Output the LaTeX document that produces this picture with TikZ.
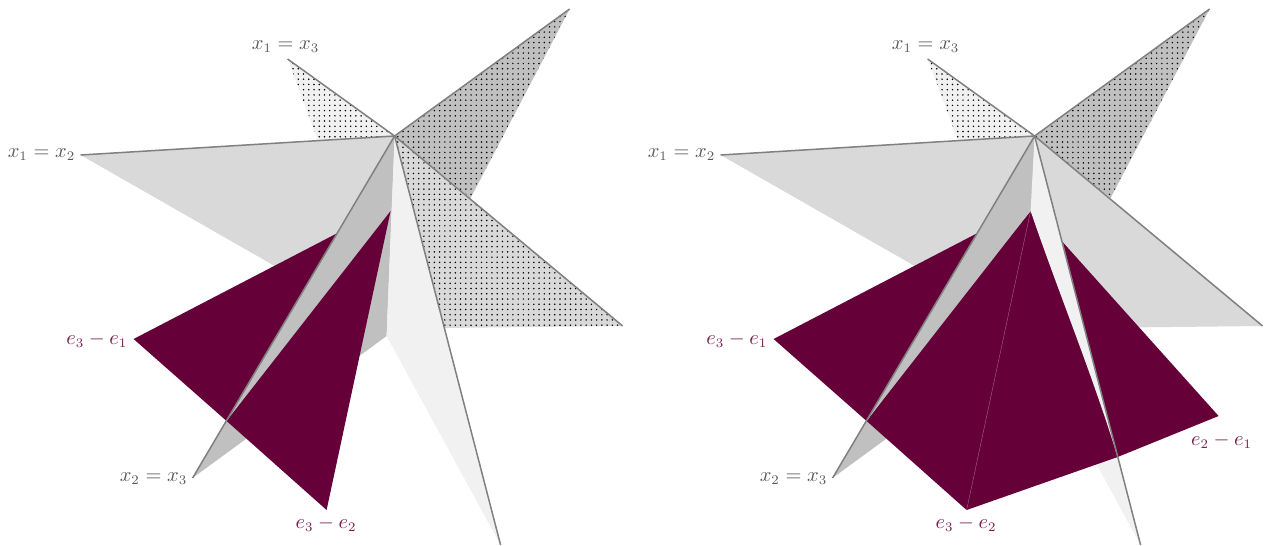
\documentclass[tikz,border=0pt]{standalone}
\usepackage{amsmath, amssymb}
\usetikzlibrary{patterns}
\definecolor{rootpurple}{RGB}{102, 0, 56}
\definecolor{planelight}{RGB}{217, 217, 217}
\definecolor{planedark}{RGB}{192, 192, 192}
\definecolor{planepale}{RGB}{241, 241, 241}
\pgfdeclarepatternformonly{finedots}{\pgfqpoint{-1pt}{-1pt}}{\pgfqpoint{1pt}{1pt}}{\pgfqpoint{2.8pt}{2.8pt}}{
  \pgfpathcircle{\pgfpointorigin}{0.45pt}\pgfusepath{fill}
}
\tikzset{
  wall/.style={draw=black!50, line width=0.8pt},
  dotted plane/.style={postaction={pattern=finedots}},
  grayl/.style={text=black!65, inner sep=0pt, font=\fontsize{10.7}{13}\selectfont},
  rootl/.style={text=rootpurple!88, inner sep=0pt, font=\fontsize{10.7}{13}\selectfont},
}
\begin{document}
\begin{tikzpicture}[x=0.535pt, y=-0.535pt]
  \useasboundingbox (0,0) rectangle (1265,545);

  %%% Left panel
  \begin{scope}[shift={(0.6,0)}, name prefix=a-]
    \coordinate (o) at (394,136);
    \coordinate (tipA) at (80,155);
    \coordinate (tipB) at (287,59);
    \coordinate (tipC) at (192,478);
    \coordinate (tipD) at (500,545);
    \coordinate (tipE) at (569,9);
    \coordinate (tipF) at (622,326);
    \coordinate (e31) at (133,339);
    \coordinate (e32) at (326,510);
    \coordinate (top) at (390,211);
    \coordinate (cut) at (226,421);

    % Dotted planes at the back
    \fill[planepale, dotted plane] (o) -- (tipB) -- (318,142) -- cycle;
    \fill[planedark, dotted plane] (o) -- (tipE) -- (470,198) -- cycle;
    \fill[planelight, dotted plane] (o) -- (tipF) -- (440,328) -- cycle;

    % Plain planes
    \fill[planelight] (o) -- (tipA) -- (386,330) -- cycle;
    \fill[planedark] (o) -- (tipC) -- (386,336) -- cycle;
    \fill[planepale] (o) -- (tipD) -- (386,336) -- cycle;

    % Roots
    \fill[rootpurple] (e31) -- (337,233) -- (cut) -- cycle;
    \fill[rootpurple] (top) -- (e32) -- (cut) -- cycle;

    % Walls
    \draw[wall] (o) -- (tipA);
    \draw[wall] (o) -- (tipB);
    \draw[wall] (o) -- (tipC);
    \draw[wall] (o) -- (tipD);
    \draw[wall] (o) -- (tipE);
    \draw[wall] (o) -- (tipF);

    \node[grayl, anchor=east] (x12) at (75,155) {$x_1 = x_2$};
    \node[grayl, anchor=east] (x23) at (187,479) {$x_2 = x_3$};
    \node[grayl] (x13) at (285,47) {$x_1 = x_3$};
    \node[rootl, anchor=east] (r31) at (127,340) {$e_3 - e_1$};
    \node[rootl] (r32) at (325.5,524) {$e_3 - e_2$};
  \end{scope}

  %%% Right panel
  \begin{scope}[shift={(640.6,0)}, name prefix=b-]
    \coordinate (o) at (394,136);
    \coordinate (tipA) at (80,155);
    \coordinate (tipB) at (287,59);
    \coordinate (tipC) at (192,478);
    \coordinate (tipD) at (500,545);
    \coordinate (tipE) at (569,9);
    \coordinate (tipF) at (622,326);
    \coordinate (e31) at (133,339);
    \coordinate (e32) at (326,510);
    \coordinate (e21) at (578,416);
    \coordinate (top) at (390,211);
    \coordinate (cut) at (226,421);
    \coordinate (cross) at (477,457);

    % Dotted planes at the back
    \fill[planepale, dotted plane] (o) -- (tipB) -- (318,142) -- cycle;
    \fill[planedark, dotted plane] (o) -- (tipE) -- (470,198) -- cycle;

    % Plain planes
    \fill[planelight] (o) -- (tipF) -- (440,328) -- cycle;
    \fill[planelight] (o) -- (tipA) -- (386,330) -- cycle;
    \fill[planedark] (o) -- (tipC) -- (386,336) -- cycle;
    \fill[planepale] (o) -- (tipD) -- (386,336) -- cycle;

    % Roots
    \fill[rootpurple] (e31) -- (337,233) -- (cut) -- cycle;
    \fill[rootpurple] (top) -- (cut) -- (e32) -- (cross) -- (e21) -- (422,242) -- cycle;
    \draw[white, opacity=0.5, line width=0.15pt] (top) -- (e32);

    % Slivers of the planes in front of the roots
    \fill[planedark] (o) -- (top) .. controls (333,281) and (279,350) .. (cut) -- cycle;
    \fill[planedark] (o) -- (422,242) -- (cross) -- cycle;
    \fill[planepale] (o) -- (top) .. controls (418,293) and (452,375) .. (cross) -- cycle;

    % Walls
    \draw[wall] (o) -- (tipA);
    \draw[wall] (o) -- (tipB);
    \draw[wall] (o) -- (tipC);
    \draw[wall] (o) -- (tipD);
    \draw[wall] (o) -- (tipE);
    \draw[wall] (o) -- (tipF);

    \node[grayl, anchor=east] (x12) at (75,155) {$x_1 = x_2$};
    \node[grayl, anchor=east] (x23) at (187,479) {$x_2 = x_3$};
    \node[grayl] (x13) at (285,47) {$x_1 = x_3$};
    \node[rootl, anchor=east] (r31) at (127,340) {$e_3 - e_1$};
    \node[rootl] (r32) at (325.5,524) {$e_3 - e_2$};
    \node[rootl] (r21) at (581,441) {$e_2 - e_1$};
  \end{scope}
\end{tikzpicture}
\end{document}
